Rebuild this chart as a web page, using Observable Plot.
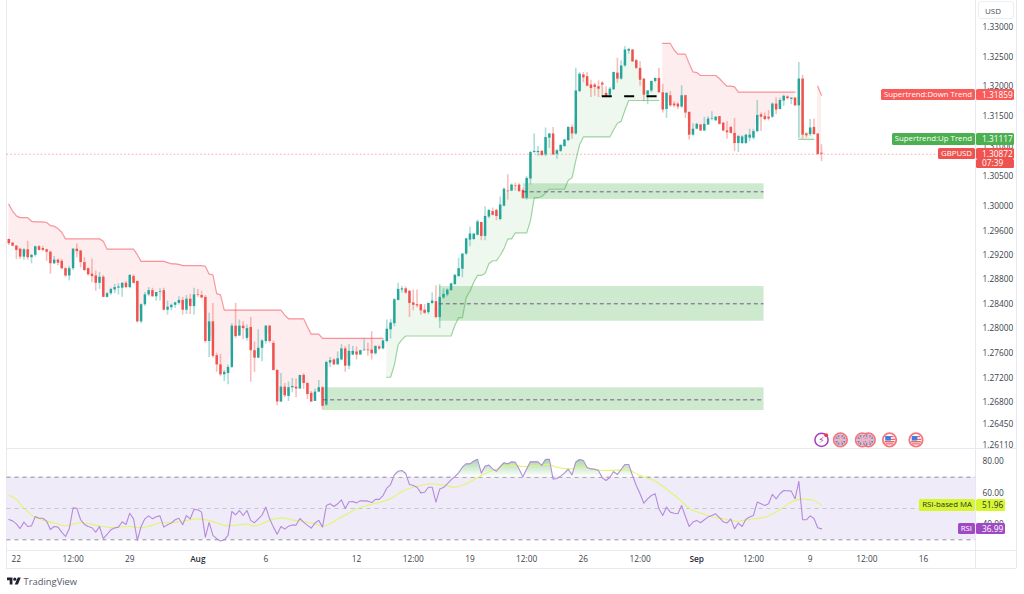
<!DOCTYPE html>
<html>
<head>
<meta charset="utf-8">
<script src="https://cdn.jsdelivr.net/npm/d3@7"></script>
<script src="https://cdn.jsdelivr.net/npm/@observablehq/plot@0.6"></script>
<style>
html,body{margin:0;padding:0;background:#fff;}
#root{position:relative;width:1024px;height:594px;overflow:hidden;font-family:"Open Sans",sans-serif;color:#2a2e39;}
#root svg{position:absolute;left:0;background:transparent;}
.ln{position:absolute;background:#e9e8f1;}
.tag{position:absolute;box-sizing:border-box;font-size:7.8px;line-height:11.4px;height:11.4px;color:#fff;white-space:nowrap;padding:0 3px;border-radius:1.5px;}
</style>
</head>
<body>
<div id="root"></div>
<script>
// GBPUSD 4H candles, in pips (1.2946 = 12946)
const opens = [12946,12940,12935,12930,12917,12929,12916,12920,12934,12931,
12929,12925,12906,12912,12910,12898,12886,12898,12930,12927,
12908,12898,12889,12886,12874,12884,12851,12857,12863,12866,
12866,12874,12867,12885,12877,12811,12839,12855,12862,12852,
12859,12862,12830,12834,12838,12841,12846,12830,12848,12836,
12855,12854,12851,12779,12811,12756,12741,12725,12727,12737,
12804,12788,12804,12784,12802,12764,12752,12768,12779,12804,
12776,12732,12681,12705,12690,12704,12705,12702,12724,12711,
12695,12682,12697,12704,12676,12744,12749,12741,12749,12767,
12739,12757,12762,12757,12764,12765,12765,12759,12770,12767,
12779,12798,12808,12846,12863,12865,12861,12842,12839,12839,
12830,12826,12841,12844,12818,12850,12855,12862,12872,12885,
12897,12922,12945,12946,12953,12974,12951,12983,12992,12994,
12979,13001,13026,13026,13035,13036,13027,13014,13046,13090,
13090,13092,13086,13114,13121,13087,13092,13100,13110,13132,
13121,13192,13220,13217,13203,13203,13200,13206,13189,13186,
13195,13223,13213,13235,13260,13262,13244,13231,13213,13186,
13193,13209,13214,13190,13162,13185,13171,13171,13166,13185,
13157,13119,13129,13136,13126,13136,13146,13143,13150,13139,
13126,13132,13122,13105,13105,13105,13114,13114,13125,13153,
13150,13149,13149,13171,13162,13176,13183,13179,13181,13168,
13213,13121,13120,13132,13121,13089];
const closes = [12939,12935,12928,12917,12929,12916,12920,12934,12928,12928,
12925,12906,12912,12907,12898,12886,12898,12930,12926,12908,
12895,12888,12885,12874,12884,12851,12857,12864,12867,12868,
12874,12867,12887,12874,12811,12839,12855,12862,12852,12859,
12860,12830,12835,12838,12842,12846,12830,12848,12836,12855,
12854,12850,12779,12811,12755,12741,12725,12729,12737,12804,
12787,12804,12800,12800,12764,12752,12768,12780,12804,12779,
12732,12681,12705,12691,12704,12706,12702,12724,12711,12693,
12681,12697,12704,12674,12745,12748,12741,12751,12767,12739,
12763,12763,12757,12764,12765,12764,12759,12771,12767,12780,
12799,12809,12847,12864,12865,12858,12841,12838,12837,12829,
12825,12841,12845,12818,12851,12856,12863,12873,12887,12898,
12922,12947,12955,12955,12975,12951,12984,12994,12986,12984,
13003,13029,13025,13036,13034,13025,13014,13047,13090,13092,
13092,13085,13115,13121,13086,13093,13102,13111,13132,13121,
13193,13221,13215,13201,13197,13199,13196,13203,13184,13196,
13224,13213,13235,13262,13263,13242,13231,13211,13186,13193,
13209,13214,13190,13161,13189,13168,13168,13166,13185,13156,
13119,13129,13137,13126,13137,13146,13147,13149,13137,13126,
13123,13122,13105,13117,13116,13119,13119,13125,13152,13149,
13145,13146,13171,13161,13177,13184,13180,13181,13168,13213,
13119,13118,13131,13120,13087,13087.2];
const highs = [12947,12941,12936,12931,12931,12943,12921,12935,12936,12935,
12930,12927,12918,12914,12913,12899,12902,12931,12939,12928,
12916,12899,12914,12894,12892,12887,12859,12866,12872,12873,
12875,12877,12888,12888,12878,12840,12859,12867,12866,12859,
12865,12866,12845,12840,12843,12852,12851,12854,12856,12866,
12864,12861,12854,12825,12841,12760,12758,12732,12741,12808,
12841,12814,12811,12806,12818,12778,12798,12782,12805,12805,
12780,12733,12727,12711,12713,12719,12718,12724,12727,12712,
12698,12702,12716,12706,12747,12753,12751,12762,12774,12771,
12774,12771,12770,12765,12783,12776,12795,12772,12772,12782,
12814,12815,12849,12874,12869,12868,12862,12863,12863,12839,
12839,12842,12858,12870,12872,12865,12865,12874,12889,12915,
12923,12948,12966,12955,12978,12974,13000,12995,12998,12996,
13016,13031,13053,13038,13039,13038,13030,13050,13092,13121,
13100,13093,13131,13122,13132,13095,13103,13112,13133,13136,
13231,13224,13224,13224,13211,13206,13210,13209,13200,13199,
13225,13248,13244,13268,13265,13263,13246,13242,13213,13194,
13210,13215,13231,13204,13190,13192,13175,13173,13202,13186,
13158,13138,13139,13137,13149,13150,13158,13150,13150,13140,
13142,13133,13147,13118,13118,13120,13129,13129,13177,13156,
13156,13160,13173,13181,13181,13186,13185,13181,13182,13241,
13219,13123,13145,13146,13121,13103];
const lows = [12936,12934,12913,12913,12912,12912,12906,12917,12927,12926,
12910,12889,12905,12903,12896,12884,12878,12895,12916,12899,
12893,12886,12875,12861,12864,12851,12850,12854,12857,12855,
12851,12865,12865,12873,12809,12808,12836,12852,12851,12845,
12845,12829,12822,12829,12833,12838,12822,12823,12823,12822,
12851,12849,12776,12753,12752,12729,12722,12714,12709,12735,
12784,12787,12782,12780,12713,12729,12751,12746,12775,12776,
12731,12675,12680,12688,12682,12696,12688,12701,12701,12685,
12680,12682,12696,12668,12674,12737,12740,12741,12748,12729,
12733,12756,12749,12757,12763,12755,12749,12757,12764,12765,
12777,12783,12803,12845,12858,12856,12818,12829,12834,12822,
12823,12823,12839,12816,12800,12848,12852,12861,12871,12884,
12883,12920,12934,12944,12952,12944,12944,12980,12985,12977,
12977,13000,13011,13025,13026,13024,13012,13011,13036,13089,
13084,13084,13083,13097,13085,13079,13090,13099,13108,13112,
13119,13190,13207,13200,13182,13184,13182,13184,13182,13182,
13194,13206,13211,13233,13255,13241,13229,13201,13175,13170,
13190,13207,13189,13156,13147,13166,13165,13162,13164,13147,
13111,13117,13128,13125,13125,13135,13143,13142,13136,13125,
13112,13121,13092,13090,13104,13104,13108,13111,13123,13125,
13143,13143,13147,13153,13161,13167,13178,13170,13167,13114,
13112,13114,13117,13119,13085,13075];

// Supertrend legs, one value per bar, with the bar each leg starts at
const downTrendA = [13004,12993,12985,12982,12982,12982,12976,12975,12975,12975,
12974,12969,12968,12964,12958,12947,12947,12947,12947,12947,
12947,12947,12947,12947,12947,12943,12930,12930,12930,12930,
12930,12930,12930,12930,12921,12910,12910,12910,12910,12910,
12910,12910,12908,12906,12906,12905,12903,12903,12903,12903,
12903,12903,12902,12889,12888,12857,12855,12830,12830,12830,
12830,12830,12830,12830,12830,12830,12830,12830,12830,12830,
12830,12830,12830,12822,12816,12816,12816,12816,12816,12803,
12791,12791,12791,12784,12784,12784,12784,12784,12784,12784,
12784,12784,12784,12784,12784,12784,12784,12784,12784,12784];
const upTrendA = [12721,12721,12741,12774,12782,12788,12788,12788,12788,12788,
12788,12788,12788,12788,12788,12788,12788,12788,12805,12818,
12818,12851,12861,12876,12887,12887,12890,12906,12911,12911,
12920,12931,12947,12947,12957,12957,12957,12957,12977,13015,
13015,13017,13023,13029,13029,13029,13029,13029,13044,13048,
13077,13103,13116,13116,13116,13116,13116,13116,13116,13116,
13128,13139,13142,13161,13177,13177,13177,13177,13177,13177,13177,13177,13177];
const downTrendB = [13273,13273,13273,13262,13255,13255,13255,13239,13225,13224,
13219,13219,13219,13219,13219,13214,13207,13201,13201,13200,
13191,13191,13191,13191,13191,13191,13191,13191,13191,13191,
13191,13191,13191,13191,13191,13191];
const upTrendB = [13112,13112,13112,13112,13112];
const downTrendC = [13201,13186];
const trendLegs = [
  {start:1,   side:"down", values:downTrendA},
  {start:101, side:"up",   values:upTrendA},
  {start:174, side:"down", values:downTrendB},
  {start:210, side:"up",   values:upTrendB},
  {start:215, side:"down", values:downTrendC}
];

// Demand zones (bars, prices)
const zoneStart  = [84.3,114.9,137.1];
const zoneEnd    = [200.8,200.8,200.8];
const zoneTop    = [1.27039,1.28687,1.30380];
const zoneBottom = [1.26672,1.28120,1.30121];
const zoneMid    = [1.26845,1.28405,1.30248];
const blackLevel = 1.3184, blackFrom = 158, blackTo = 172.6;

const priceTicks = [1.33,1.325,1.32,1.315,1.31,1.305,1.30,1.296,1.292,1.288,1.284,1.28,1.276,1.272,1.268,1.2645,1.2611];
const lastPrice = 1.30872, lastDown = 1.31859, lastUp = 1.31117;

// RSI per bar and its moving average
const rsiValues = [43.0,42.1,40.2,37.2,41.3,38.5,38.9,44.9,43.8,43.8,
41.9,36.6,38.5,38.1,34.9,32.1,37.0,50.4,50.2,42.8,
39.8,38.5,37.7,34.9,38.5,30.7,33.4,36.4,37.5,38.1,
41.5,39.8,47.0,43.4,29.6,38.5,43.4,45.3,43.4,44.7,
45.3,38.1,39.6,40.7,42.8,43.8,39.6,45.5,43.4,49.4,
49.2,47.7,31.7,41.1,32.8,30.7,29.2,30.0,32.8,48.1,
46.0,48.7,45.5,48.7,42.4,40.9,43.4,45.8,50.9,43.4,
38.1,33.6,38.5,36.8,38.7,39.4,39.4,43.6,41.3,39.2,
37.5,40.7,42.4,38.1,51.9,53.0,51.3,53.0,55.5,50.0,
54.3,54.5,53.6,54.9,54.9,54.7,53.8,55.8,55.8,58.3,
63.0,65.3,71.5,73.8,74.3,72.4,65.3,64.7,63.6,60.0,
60.4,63.6,63.6,54.1,62.4,63.4,65.8,68.3,70.4,72.8,
76.4,78.5,78.5,80.2,81.5,72.6,77.0,77.7,75.3,73.8,
76.8,79.2,78.5,79.8,79.6,75.3,70.2,75.3,79.8,79.8,
79.8,77.5,81.3,81.5,68.7,69.2,70.7,72.6,75.1,71.5,
79.6,81.3,80.7,76.2,75.3,75.1,74.3,69.6,67.9,69.8,
73.6,71.7,74.9,78.1,78.1,71.1,64.7,59.4,53.4,56.2,
58.3,59.4,49.8,45.5,50.9,47.7,47.0,46.6,51.9,44.9,
38.5,41.3,42.4,40.9,42.8,44.5,45.6,46.6,44.1,41.5,
40.7,43.4,37.0,40.7,38.5,43.2,44.5,45.6,54.1,53.0,
51.9,53.0,59.0,56.2,59.4,61.5,61.3,61.1,56.2,67.3,
42.8,42.8,45.3,43.6,37.7,36.99];
const rsiMaBars = [1,3,5,7.6,10.3,13.4,16,20,24,28,33,36,38.5,41,45.5,51,54,59,64,66,70,73,76.5,82,84,89,93,97.5,102,105.5,110,112.5,116,119,122,126,130,134,137,143.5,146,149.5,152,155.5,158.5,164.5,168,172.5,175.5,179,181,184,186.6,190,193.7,197,201.6,205,208,210.8,213.4,216];
const rsiMaValues = [58.7,55.8,50.2,44.9,42.4,40.4,38.9,41.1,39.2,37.9,38.5,37.7,38.9,40.9,41.3,43.4,42.4,38.9,40.0,38.9,42.4,44.0,42.4,40.2,38.7,44.5,49.8,53.0,56.2,61.5,64.7,65.8,64.9,63.6,65.8,71.1,75.3,77.7,76.8,78.1,76.4,75.3,76.4,75.3,74.3,74.7,71.1,66.8,61.5,54.7,50.2,47.1,45.1,43.4,41.9,43.0,44.9,49.2,54.1,56.0,55.6,51.96];
const rsiLevels = [70,50,30];
const rsiTicks = [80,60,40];
const rsiLast = 36.99, rsiMaLast = 51.96;

// Time axis
const timeTicks  = [3,18,33,69,93,108,123,138,153,168,198,213,228,243];
const timeLabels = ["22","12:00","29","6","12","12:00","19","12:00","26","12:00","12:00","9","12:00","16"];
const monthTicks = [51,183];
const monthLabels = ["Aug","Sep"];

// Economic-event markers under the price pane
const eventLevel = 1.262;
const lightningBars = [216];
const gbBars = [221,228.4,226.8];
const usBars = [234,241];

const FONT = '"Open Sans",sans-serif';
const UP = "#26a69a", DOWN = "#ef5350";
const barX = {type:"linear", domain:[1,216], range:[8.3,821]};

const bars = opens.map((o,i)=>({
  n:i+1, o:o/1e4, c:closes[i]/1e4, h:highs[i]/1e4, l:lows[i]/1e4,
  col: closes[i]>=o ? UP : DOWN
}));
const legs = trendLegs.map(l=>({
  side:l.side,
  rows:l.values.map((v,i)=>{
    const b = bars[l.start-1+i];
    return {n:l.start+i, line:v/1e4, mid:(b.o+b.c)/2};
  })
}));
const zones = zoneStart.map((s,i)=>({s, e:zoneEnd[i], t:zoneTop[i], b:zoneBottom[i], m:zoneMid[i]}));
const legColor = s => s==="up" ? "#4caf50" : "#f23645";

// Custom small flag symbols for the event markers
const gbCross = {draw(c,s){const r=Math.sqrt(s/Math.PI),w=r*0.2;
  c.rect(-r,-w,2*r,2*w);c.rect(-w,-r,2*w,2*r);
  c.moveTo(-r*.62,-r*.78);c.lineTo(-r*.78,-r*.62);c.lineTo(r*.62,r*.78);c.lineTo(r*.78,r*.62);c.closePath();
  c.moveTo(r*.62,-r*.78);c.lineTo(r*.78,-r*.62);c.lineTo(-r*.62,r*.78);c.lineTo(-r*.78,r*.62);c.closePath();}};
const usCanton = {draw(c,s){const r=Math.sqrt(s/Math.PI);c.rect(-r*.8,-r*.72,r*1.05,r*.85);}};
const usStripes = {draw(c,s){const r=Math.sqrt(s/Math.PI),h=r*.24;
  c.rect(.2*r,-r*.72,r*.55,h);c.rect(.2*r,-r*.22,r*.8,h);c.rect(-r*.92,r*.22,r*1.84,h);c.rect(-r*.72,r*.62,r*1.44,h);}};
const evY = () => eventLevel;
const ring = {y:evY, r:6.7, fill:"#fff", stroke:"#f7767c", strokeWidth:1.8};

const axisText = {fontFamily:FONT, fontSize:8.3, fill:"#3b3f4a"};

const main = Plot.plot({
  width:1024, height:449,
  marginLeft:6.5, marginRight:49, marginTop:0, marginBottom:0,
  style:{background:"transparent", fontFamily:FONT},
  x:{...barX, axis:null},
  y:{type:"log", domain:[1.2611,1.33], range:[445,27], axis:null},
  marks:[
    ...legs.map(l=>Plot.areaY(l.rows,{x:"n",y1:"line",y2:"mid",fill:legColor(l.side),fillOpacity:0.09,curve:"linear"})),
    Plot.rect(zones,{x1:"s",x2:"e",y1:"b",y2:"t",fill:"#4caf50",fillOpacity:0.28}),
    Plot.ruleY([lastPrice],{stroke:DOWN,strokeOpacity:.5,strokeDasharray:"1.5,2.3",strokeWidth:1}),
    Plot.ruleX(bars,{x:"n",y1:"l",y2:"h",stroke:"col",strokeWidth:1.6,strokeOpacity:.38}),
    Plot.ruleX(bars,{x:"n",y1:"o",y2:"c",stroke:"col",strokeWidth:2.5}),
    ...legs.map(l=>Plot.lineY(l.rows,{x:"n",y:"line",stroke:legColor(l.side),strokeOpacity:l.side==="up"?.55:.5,strokeWidth:1.2})),
    Plot.ruleY(zones,{x1:"s",x2:"e",y:"m",stroke:"#6d4a86",strokeDasharray:"4,3",strokeWidth:.9}),
    Plot.ruleY([blackLevel],{x1:blackFrom,x2:blackTo,stroke:"#000",strokeWidth:2,strokeDasharray:"10,12.4"}),
    Plot.axisY(priceTicks,{anchor:"right",tickSize:0,tickPadding:7,tickFormat:d3.format(".5f"),label:null,...axisText}),
    // event markers
    Plot.dot(lightningBars,{x:d=>d,y:evY,r:6.6,fill:"#fff",stroke:"#a23fc4",strokeWidth:1.5}),
    Plot.text(lightningBars,{x:d=>d,y:evY,text:()=>"⚡",fill:"#a23fc4",fontSize:8.5,fontFamily:"DejaVu Sans"}),
    Plot.dot(lightningBars,{x:d=>d,y:evY,r:1.9,fill:"#f23645",dx:4.7,dy:-4.7}),
    Plot.dot(gbBars,{x:d=>d,...ring}),
    Plot.dot(gbBars,{x:d=>d,y:evY,r:5.4,fill:"#6f8bcb"}),
    Plot.dot(gbBars,{x:d=>d,y:evY,r:5.4,symbol:gbCross,fill:"#f5b4bd"}),
    Plot.dot(usBars,{x:d=>d,...ring}),
    Plot.dot(usBars,{x:d=>d,y:evY,r:5.4,symbol:usStripes,fill:"#f0646b"}),
    Plot.dot(usBars,{x:d=>d,y:evY,r:5.4,symbol:usCanton,fill:"#3f7fe0"})
  ]
});
main.style.top = "0px";

const rsiRows = rsiValues.map((v,i)=>({n:i+1,v,over:Math.max(v,70)}));
const maRows = rsiMaBars.map((n,i)=>({n,v:rsiMaValues[i]}));

const rsi = Plot.plot({
  width:1024, height:119,
  marginLeft:6.5, marginRight:49, marginTop:0, marginBottom:18,
  style:{background:"transparent", fontFamily:FONT},
  x:{...barX, axis:null},
  y:{type:"linear", domain:[70,30], range:[27.7,90.3], axis:null},
  marks:[
    Plot.rect([0],{y1:()=>30,y2:()=>70,fill:"#f0ebf8"}),
    Plot.ruleY(rsiLevels,{stroke:d=>d===50?"#c6c4ce":"#8f8f98",strokeDasharray:"4,4",strokeWidth:1}),
    Plot.areaY(rsiRows,{x:"n",y1:()=>70,y2:"over",fill:"url(#rsiOver)"}),
    Plot.line(maRows,{x:"n",y:"v",stroke:"#e3f56b",strokeWidth:1.1,curve:"monotone-x"}),
    Plot.line(rsiRows,{x:"n",y:"v",stroke:"#b48bdc",strokeWidth:1.1}),
    Plot.axisY(rsiTicks,{anchor:"right",tickSize:0,tickPadding:7,tickFormat:d3.format(".2f"),label:null,...axisText}),
    Plot.axisX(timeTicks,{anchor:"bottom",tickSize:0,tickPadding:6,label:null,tickFormat:d=>timeLabels[timeTicks.indexOf(d)],...axisText}),
    Plot.axisX(monthTicks,{anchor:"bottom",tickSize:0,tickPadding:6,label:null,tickFormat:d=>monthLabels[monthTicks.indexOf(d)],...axisText,fontWeight:600,fill:"#2a2e39"})
  ]
});
rsi.style.top = "449px";
const defs = d3.select(rsi).insert("defs",":first-child");
const grad = defs.append("linearGradient").attr("id","rsiOver").attr("x1",0).attr("x2",0).attr("y1",0).attr("y2",1);
grad.append("stop").attr("offset","0%").attr("stop-color","#9fd6a3");
grad.append("stop").attr("offset","100%").attr("stop-color","#ffffff");

const root = document.getElementById("root");
// Pane dividers
[[6,0,1,568],[975,0,1,568],[1016,0,1,568],[6,448,1010,1],[6,550,1010,1],[6,567.5,1010,1]].forEach(([l,t,w,h])=>{
  const d=document.createElement("div");d.className="ln";
  d.style.cssText=`left:${l}px;top:${t}px;width:${w}px;height:${h}px`;root.appendChild(d);
});
root.appendChild(main);
root.appendChild(rsi);

function tag(top,left,right,text,bg,fg,extra){
  const d=document.createElement("div");d.className="tag";d.textContent=text;
  d.style.cssText+=`top:${top}px;${left!=null?`left:${left}px;`:""}${right!=null?`right:${1024-right}px;`:""}background:${bg};${fg?`color:${fg};`:""}${extra||""}`;
  root.appendChild(d);return d;
}
const yP = v => main.scale("y").apply(v);
const yR = v => 449 + rsi.scale("y").apply(v);
function priceTag(v,name,bg){
  const t=yP(v)-5.7;
  tag(t,null,975,name,bg);
  tag(t,976,1014,d3.format(".5f")(v),bg,null,"padding:0 0 0 6px;font-size:8.3px;");
}
priceTag(lastDown,"Supertrend:Down Trend","#f95a5a");
priceTag(lastUp,"Supertrend:Up Trend","#4caf50");
priceTag(lastPrice,"GBPUSD","#ef5350");
tag(yP(lastPrice)+5.6,976,1014,"07:39","#ef5350",null,"padding:0 0 0 6px;height:8.8px;line-height:8px;font-size:8.3px;");
function rsiTag(v,name,bg,fg){
  const t=yR(v)-5.7;
  tag(t,null,975,name,bg,fg);
  tag(t,976,1005,d3.format(".2f")(v),bg,fg,"padding:0 0 0 6px;font-size:8.3px;");
}
rsiTag(rsiMaLast,"RSI-based MA","#d6f62f","#2a2e39");
rsiTag(rsiLast,"RSI","#a049c4");

// USD box
const usd=document.createElement("div");
usd.textContent="USD";
usd.style.cssText='position:absolute;left:978px;top:1px;width:36px;height:18px;box-sizing:border-box;border:1px solid #eceef3;border-radius:3px;font-size:8px;line-height:17px;padding-left:6px;color:#4a4e59;';
root.appendChild(usd);

// Logo
const logo=document.createElement("div");
logo.style.cssText='position:absolute;left:6.5px;top:575px;height:12px;display:flex;align-items:center;color:#555a66;font-size:9.4px;';
logo.innerHTML='<svg style="position:static;width:14px;height:11px;margin-right:3px" viewBox="0 0 36 28"><path fill="#1e222d" d="M14 22H7V11H0V4h14v18zM28 22h-8l7.5-18h8L28 22z"/><circle fill="#1e222d" cx="20" cy="8" r="4"/></svg><span>TradingView</span>';
root.appendChild(logo);
</script>
</body>
</html>
